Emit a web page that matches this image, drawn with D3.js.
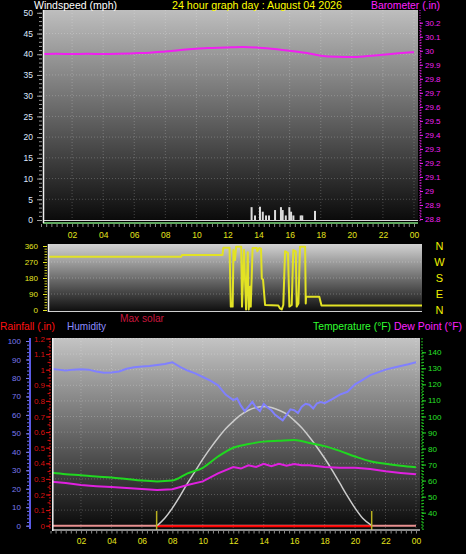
<!DOCTYPE html>
<html><head><meta charset="utf-8">
<script src="https://cdn.jsdelivr.net/npm/d3@7/dist/d3.min.js"></script>
<style>body{margin:0;background:#000;overflow:hidden}svg{display:block}text{font-family:"Liberation Sans",Arial,sans-serif}</style>
</head><body>
<svg id="c" width="466" height="554"></svg>
<script>
// ---------- DATA ----------
const hourLabels = ["02","04","06","08","10","12","14","16","18","20","22","00"];
const labelHours = [2,4,6,8,10,12,14,16,18,20,22,24];

// Barometer (in) by hour
const baroHours = [0,1,2,3,4,5,6,7,8,9,10,11,12,13,14,15,16,17,18,19,20,21,22,23,24];
const baroValues = [29.976,29.978,29.976,29.978,29.976,29.978,29.982,29.986,29.995,30.005,30.015,30.020,30.024,30.027,30.022,30.013,30.000,29.985,29.965,29.957,29.955,29.962,29.972,29.982,29.990];

// Wind speed samples (mph)
const windHours = [13.55,13.77,14.09,14.27,14.48,14.67,15.06,15.44,15.55,15.75,15.98,16.09,16.24,16.71,16.81,17.63];
const windValues = [3.1,1.1,3.2,2.0,1.1,1.1,2.4,3.1,2.4,1.1,3.1,2.0,1.1,1.1,1.1,2.2];

// Wind direction (degrees)
const dirHours = [0,8.55,8.6,11.2,11.25,11.65,11.73,11.85,11.9,12.0,12.07,12.4,12.45,12.58,12.71,12.82,12.88,12.97,13.01,13.13,13.4,13.43,13.56,13.67,13.72,13.8,13.93,14.78,14.89,15.0,15.1,15.21,15.4,15.49,15.64,15.74,15.9,15.96,16.07,16.17,16.5,16.54,16.56,17.41,17.55,24];
const dirValues = [300,300,310,310,350,350,19,19,337,281,356,356,19,337,3,325,3,131,19,349,349,331,349,345,178,170,28,25,9,3,28,331,320,19,28,337,330,19,37,356,356,37,75,75,25,25];
const compass = ["N","W","S","E","N"];
const compassDeg = [360,270,180,90,0];

// Humidity (%)
const humHours = [0,0.5,1,1.5,2,2.5,3,3.5,4,4.5,5,5.5,6,6.5,7,7.5,8,8.5,9,9.5,10,10.5,11,11.5,12,12.25,12.5,12.75,13,13.25,13.5,13.75,14,14.25,14.5,14.75,15,15.25,15.5,15.75,16,16.25,16.5,16.75,17,17.25,17.5,17.75,18,18.5,19,19.5,20,20.5,21,21.5,22,22.5,23,23.5,24];
const humValues = [85,84.5,84,84.5,84.7,84.5,83.5,82.8,83,83.5,85,85.8,86.2,86.5,87,87.5,88.5,86,84,82.5,80.5,78.5,76,71,68,69,65,62,64.5,67,64,62,66,64,62.5,60,58.5,57,60,63,62.5,61,64.5,66,65.5,63.5,66.3,67,66.3,68.5,71,72.5,76.5,79,81.5,83,84.5,85.5,86.5,87.4,88.5];

// Temperature (F)
const tempHours = [0,1,2,3,4,5,6,7,8,9,10,11,12,13,14,15,16,17,18,19,20,21,22,23,24];
const tempValues = [65,64,63.3,62.5,62,61,60,59.5,60,64.5,68,75,80.5,82.8,84.3,84.8,85.3,83.5,81.5,78.5,75,72,70.5,69.3,68.3];

// Dew point (F)
const dewHours = [0,1,2,3,4,5,6,7,8,9,10,11,12,12.5,13,13.5,14,14.5,15,15.5,16,16.5,17,18,19,20,21,22,23,24];
const dewValues = [59.3,58.5,57.2,56.5,56,55.4,54.8,54.2,54.6,57.3,59.5,64.5,68.5,67.5,69.5,68.5,70.5,69,70.5,69.2,70.3,69.5,69.5,68.5,68,68,67.2,65.8,64.8,63.9];

// Max solar (relative, on humidity scale)
const solarHours = [7.0,7.5,8,8.5,9,9.5,10,10.5,11,11.5,12,12.5,13,13.5,14,14.5,15,15.5,16,16.5,17,17.5,18,18.5,19,19.5,20,20.5,21.1];
const solarValues = [0,4,9.5,16,23,29.5,36,42,47.5,52.5,56.5,60,62.5,64,64.5,64,62.5,60.5,57,53,48,42.5,36.5,30,23,16,9.5,4,0];

// Rainfall (in)
const rainHours = [0,24];
const rainValues = [0,0];
const sunEvents = [6.97,21.09];

// ---------- DRAW ----------
const svg = d3.select("#c");
const defs = svg.append("defs");
function grad(id, c0, c1){
  const g = defs.append("linearGradient").attr("id",id).attr("x1",0).attr("y1",0).attr("x2",0).attr("y2",1);
  g.append("stop").attr("offset","0%").attr("stop-color",c0);
  g.append("stop").attr("offset","100%").attr("stop-color",c1);
}
grad("gTop","#bebebe","#0a0a0a");
grad("gMid","#d2d2d2","#0c0c0c");
grad("gBot","#c4c4c4","#080808");

const F = "Liberation Sans, Arial, sans-serif";
function styleAxis(g, color, fs){
  g.select(".domain").remove();
  g.selectAll(".tick line").attr("stroke", color);
  g.selectAll(".tick text").attr("fill", color).attr("font-size", fs).attr("font-family", F);
}
function label(x,y,color,txt,len){
  svg.append("text").attr("x",x).attr("y",y).attr("fill",color).attr("font-size",11)
    .attr("textLength",len).attr("lengthAdjust","spacingAndGlyphs").text(txt);
}
const pTop = {x0:43,x1:418,y0:10,y1:221};
const pMid = {x0:48,x1:422,y0:244,y1:312};
const pBot = {x0:52,x1:420,y0:338,y1:530};

const xTop = d3.scaleLinear().domain([0,24]).range([41,414]);
const yWind = d3.scaleLinear().domain([0,50]).range([220,12.8]);
const yBaro = d3.scaleLinear().domain([28.8,30.2]).range([219,22.7]);
const xMid = d3.scaleLinear().domain([0,24]).range([48,422]);
const yDir = d3.scaleLinear().domain([0,360]).range([310,246]);
const xBot = d3.scaleLinear().domain([0,24]).range([50.5,416]);
const yHum = d3.scaleLinear().domain([0,100]).range([525.7,341]);
const yRain = d3.scaleLinear().domain([0,1.2]).range([525.7,338.5]);
const yTemp = d3.scaleLinear().domain([30,140]).range([528.7,352.3]);

function clip(id,p){
  defs.append("clipPath").attr("id",id).append("rect").attr("x",p.x0).attr("y",p.y0).attr("width",p.x1-p.x0).attr("height",p.y1-p.y0);
}
clip("cTop",pTop); clip("cMid",pMid); clip("cBot",pBot);

// ===== Top panel =====
svg.append("rect").attr("x",pTop.x0).attr("y",pTop.y0).attr("width",pTop.x1-pTop.x0).attr("height",pTop.y1-pTop.y0).attr("fill","url(#gTop)");
const gTopGrid = svg.append("g").attr("clip-path","url(#cTop)");
gTopGrid.selectAll(".hg").data(d3.range(5,50,5)).join("line")
  .attr("x1",pTop.x0).attr("x2",pTop.x1).attr("y1",d=>yWind(d)).attr("y2",d=>yWind(d))
  .attr("stroke","rgba(255,255,255,0.22)").attr("stroke-dasharray","1,2");
gTopGrid.selectAll(".vg").data(labelHours).join("line")
  .attr("y1",pTop.y0).attr("y2",pTop.y1).attr("x1",d=>xTop(d)).attr("x2",d=>xTop(d))
  .attr("stroke","rgba(255,255,255,0.22)").attr("stroke-dasharray","1,2");
// wind bars
gTopGrid.selectAll(".wb").data(windHours).join("rect")
  .attr("x",(d)=>xTop(d)-1).attr("width",2)
  .attr("y",(d,i)=>yWind(windValues[i])).attr("height",(d,i)=>yWind(0)-yWind(windValues[i]))
  .attr("fill","#dcdcdc");
// baseline lines
svg.append("line").attr("x1",pTop.x0).attr("x2",pTop.x1).attr("y1",220.5).attr("y2",220.5).attr("stroke","#d8d8d8").attr("stroke-width",1);
svg.append("line").attr("x1",pTop.x0).attr("x2",pTop.x1).attr("y1",223).attr("y2",223).attr("stroke","#80e080").attr("stroke-width",1.5);
svg.append("line").attr("x1",43.5).attr("x2",43.5).attr("y1",pTop.y0).attr("y2",223).attr("stroke","#f0f0f0").attr("stroke-width",1.5);
// barometer
gTopGrid.append("path").datum(baroHours)
  .attr("d", d3.line().x(d=>xTop(d)).y((d,i)=>yBaro(baroValues[i])).curve(d3.curveMonotoneX))
  .attr("fill","none").attr("stroke","#f020f0").attr("stroke-width",2);
// left axis (wind)
const axWindMinor = svg.append("g").attr("transform","translate(42,0)")
  .call(d3.axisLeft(yWind).tickValues(d3.range(0,50.1,1)).tickSize(3).tickFormat(""));
styleAxis(axWindMinor,"#9a9a9a",8);
const axWind = svg.append("g").attr("transform","translate(42,0)")
  .call(d3.axisLeft(yWind).tickValues(d3.range(0,50.1,5)).tickSize(5).tickPadding(4));
styleAxis(axWind,"#dfe8ff",8.5);
axWind.selectAll(".tick line").attr("stroke","#9a9a9a");
// right axis (barometer)
svg.append("line").attr("x1",420).attr("x2",420).attr("y1",pTop.y0).attr("y2",pTop.y1)
  .attr("stroke","#e020e0").attr("stroke-dasharray","1,1.5");
const axBaroMinor = svg.append("g").attr("transform","translate(420,0)")
  .call(d3.axisRight(yBaro).tickValues(d3.range(28.8,30.201,0.02)).tickSize(1.5).tickFormat(""));
styleAxis(axBaroMinor,"#e020e0",8);
const axBaro = svg.append("g").attr("transform","translate(420,0)")
  .call(d3.axisRight(yBaro).tickValues(d3.range(28.8,30.201,0.1)).tickSize(3).tickPadding(2).tickFormat(d=>String(+d.toFixed(1))));
styleAxis(axBaro,"#f020f0",8);
// x axis between panels
const axXTopMinor = svg.append("g").attr("transform","translate(0,224)")
  .call(d3.axisBottom(xTop).tickValues(d3.range(0,24.01,1/3)).tickSize(3).tickFormat(""));
styleAxis(axXTopMinor,"#8a8a8a",8);
const axXTop = svg.append("g").attr("transform","translate(0,224)")
  .call(d3.axisBottom(xTop).tickValues(labelHours).tickSize(0).tickPadding(8).tickFormat((d,i)=>hourLabels[i]));
styleAxis(axXTop,"#e4e41c",8.5);
// titles
label(34,9,"#ffffff","Windspeed (mph)",83);
label(172,9,"#ffff00","24 hour graph day : August 04 2026",170);
label(371,9,"#ff20ff","Barometer (.in)",69);

// ===== Middle panel =====
svg.append("rect").attr("x",pMid.x0).attr("y",pMid.y0).attr("width",pMid.x1-pMid.x0).attr("height",pMid.y1-pMid.y0).attr("fill","url(#gMid)");
const gMid = svg.append("g").attr("clip-path","url(#cMid)");
gMid.selectAll(".hg").data([90,180,270]).join("line")
  .attr("x1",pMid.x0).attr("x2",pMid.x1).attr("y1",d=>yDir(d)).attr("y2",d=>yDir(d))
  .attr("stroke","rgba(255,255,255,0.25)").attr("stroke-dasharray","1,2");
svg.append("line").attr("x1",pMid.x0).attr("x2",pMid.x1).attr("y1",311.5).attr("y2",311.5).attr("stroke","#cfcfcf").attr("stroke-width",1.2);
svg.append("line").attr("x1",48.5).attr("x2",48.5).attr("y1",pMid.y0).attr("y2",pMid.y1).attr("stroke","#e8e8e8").attr("stroke-width",1.5);
gMid.append("path").datum(dirHours)
  .attr("d", d3.line().x(d=>xMid(d)).y((d,i)=>yDir(dirValues[i])))
  .attr("fill","none").attr("stroke","#e2e224").attr("stroke-width",2).attr("stroke-linejoin","round");
const axDirMinor = svg.append("g").attr("transform","translate(47,0)")
  .call(d3.axisLeft(yDir).tickValues(d3.range(0,361,15)).tickSize(2.5).tickFormat(""));
styleAxis(axDirMinor,"#c8c820",8);
const axDir = svg.append("g").attr("transform","translate(47,0)")
  .call(d3.axisLeft(yDir).tickValues([0,90,180,270,360]).tickSize(4).tickPadding(5));
styleAxis(axDir,"#e6e620",8);
svg.selectAll(".comp").data(compass).join("text")
  .attr("x",439.5).attr("y",(d,i)=>yDir(compassDeg[i])).attr("dy","0.36em")
  .attr("text-anchor","middle").attr("fill","#f0f000").attr("font-size",11).text(d=>d);

// ===== Legend row =====
label(0,329.5,"#ff1010","Rainfall (.in)",55);
label(67,329.5,"#8c8cff","Humidity",39);
label(120,322,"#c8163c","Max solar",44);
label(313,329.5,"#30ff30","Temperature (°F)",78);
label(394,329.5,"#ff20ff","Dew Point (°F)",68);

// ===== Bottom panel =====
svg.append("rect").attr("x",pBot.x0).attr("y",pBot.y0).attr("width",pBot.x1-pBot.x0).attr("height",pBot.y1-pBot.y0).attr("fill","url(#gBot)");
const gBot = svg.append("g").attr("clip-path","url(#cBot)");
gBot.selectAll(".hg").data(d3.range(0.1,1.21,0.1)).join("line")
  .attr("x1",pBot.x0).attr("x2",pBot.x1).attr("y1",d=>yRain(d)).attr("y2",d=>yRain(d))
  .attr("stroke","rgba(255,255,255,0.22)").attr("stroke-dasharray","1,2");
gBot.selectAll(".vg").data(labelHours).join("line")
  .attr("y1",pBot.y0).attr("y2",pBot.y1).attr("x1",d=>xBot(d)).attr("x2",d=>xBot(d))
  .attr("stroke","rgba(255,255,255,0.22)").attr("stroke-dasharray","1,2");
// rainfall
gBot.append("path").datum(rainHours)
  .attr("d", d3.line().x(d=>xBot(d)).y((d,i)=>yRain(rainValues[i])))
  .attr("fill","none").attr("stroke","#e89090").attr("stroke-width",2);
gBot.append("line").attr("x1",xBot(sunEvents[0])).attr("x2",xBot(sunEvents[1]))
  .attr("y1",yRain(0)+0.5).attr("y2",yRain(0)+0.5).attr("stroke","#ff0000").attr("stroke-width",2);
// solar
gBot.append("path").datum(solarHours)
  .attr("d", d3.line().x(d=>xBot(d)).y((d,i)=>yHum(solarValues[i])).curve(d3.curveMonotoneX))
  .attr("fill","none").attr("stroke","#cccccc").attr("stroke-width",1.5);
// humidity
gBot.append("path").datum(humHours)
  .attr("d", d3.line().x(d=>xBot(d)).y((d,i)=>yHum(humValues[i])))
  .attr("fill","none").attr("stroke","#8080ff").attr("stroke-width",2);
// temperature
gBot.append("path").datum(tempHours)
  .attr("d", d3.line().x(d=>xBot(d)).y((d,i)=>yTemp(tempValues[i])).curve(d3.curveMonotoneX))
  .attr("fill","none").attr("stroke","#20d820").attr("stroke-width",2);
// dew point
gBot.append("path").datum(dewHours)
  .attr("d", d3.line().x(d=>xBot(d)).y((d,i)=>yTemp(dewValues[i])))
  .attr("fill","none").attr("stroke","#e020e0").attr("stroke-width",2);
// sunrise/sunset markers
svg.selectAll(".sun").data(sunEvents).join("line")
  .attr("x1",d=>xBot(d)).attr("x2",d=>xBot(d)).attr("y1",511).attr("y2",530)
  .attr("stroke","#b8b020").attr("stroke-width",1.5);
// borders
svg.append("line").attr("x1",pBot.x0).attr("x2",pBot.x1).attr("y1",530).attr("y2",530).attr("stroke","#bdbdbd").attr("stroke-width",1.5);
svg.append("line").attr("x1",52.8).attr("x2",52.8).attr("y1",pBot.y0).attr("y2",531).attr("stroke","#f0f0f0").attr("stroke-width",1.5);
// humidity axis
svg.append("line").attr("x1",30).attr("x2",30).attr("y1",338).attr("y2",529).attr("stroke","#5a5ae6").attr("stroke-width",2);
const axHumMinor = svg.append("g").attr("transform","translate(29,0)")
  .call(d3.axisLeft(yHum).tickValues(d3.range(0,100.1,2)).tickSize(2).tickFormat(""));
styleAxis(axHumMinor,"#6a6ae8",8);
const axHum = svg.append("g").attr("transform","translate(29,0)")
  .call(d3.axisLeft(yHum).tickValues(d3.range(0,100.1,10)).tickSize(3).tickPadding(5));
styleAxis(axHum,"#7a7af0",8);
// rainfall axis
svg.append("line").attr("x1",50).attr("x2",50).attr("y1",338).attr("y2",530).attr("stroke","#e01010").attr("stroke-dasharray","1.5,1.5").attr("stroke-width",1.2);
const axRainMinor = svg.append("g").attr("transform","translate(50,0)")
  .call(d3.axisLeft(yRain).tickValues(d3.range(0,1.201,0.05)).tickSize(2.5).tickFormat(""));
styleAxis(axRainMinor,"#d01010",8);
const axRain = svg.append("g").attr("transform","translate(50,0)")
  .call(d3.axisLeft(yRain).tickValues(d3.range(0,1.201,0.1)).tickSize(4).tickPadding(1).tickFormat(d=>String(+d.toFixed(1))));
styleAxis(axRain,"#d81010",8);
// temperature axis
svg.append("line").attr("x1",422).attr("x2",422).attr("y1",338).attr("y2",530).attr("stroke","#20c020").attr("stroke-dasharray","1.5,1.5").attr("stroke-width",1.2);
const axTempMinor = svg.append("g").attr("transform","translate(422,0)")
  .call(d3.axisRight(yTemp).tickValues(d3.range(30,140.1,2)).tickSize(2).tickFormat(""));
styleAxis(axTempMinor,"#20c020",8);
const axTemp = svg.append("g").attr("transform","translate(422,0)")
  .call(d3.axisRight(yTemp).tickValues(d3.range(40,140.1,10)).tickSize(4).tickPadding(2));
styleAxis(axTemp,"#28e028",8);
// bottom x axis
const axXBotMinor = svg.append("g").attr("transform","translate(0,531)")
  .call(d3.axisBottom(xBot).tickValues(d3.range(0,24.01,1/3)).tickSize(2.5).tickFormat(""));
styleAxis(axXBotMinor,"#8a8a8a",8);
const axXBot = svg.append("g").attr("transform","translate(0,530)")
  .call(d3.axisBottom(xBot).tickValues(labelHours).tickSize(0).tickPadding(8).tickFormat((d,i)=>hourLabels[i]));
styleAxis(axXBot,"#e4e41c",8.5);
</script>
</body></html>
